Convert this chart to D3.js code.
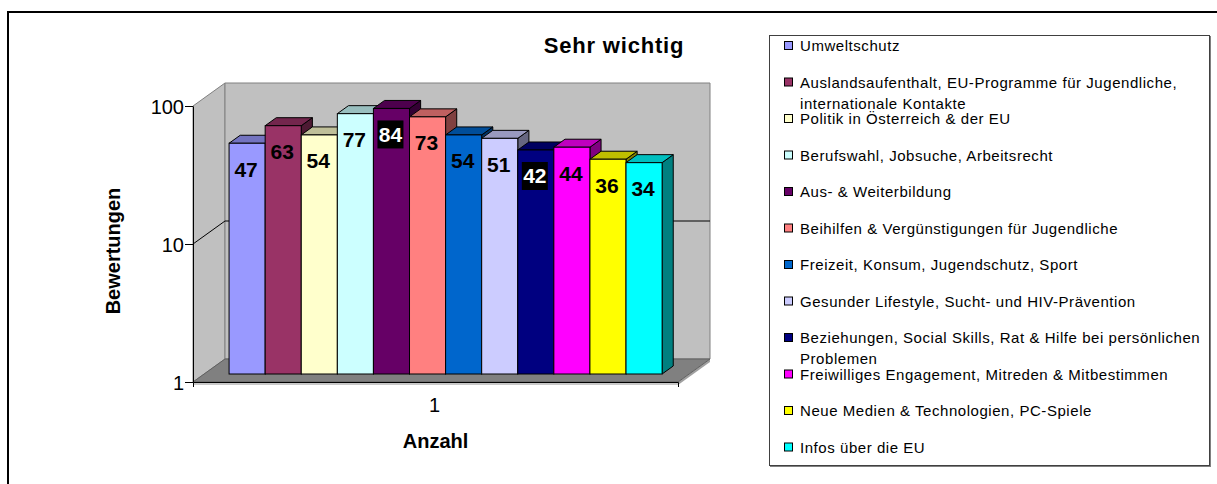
<!DOCTYPE html>
<html>
<head>
<meta charset="utf-8">
<script src="https://cdn.jsdelivr.net/npm/d3@7"></script>
<style>
  html, body { margin: 0; padding: 0; background: #fff; }
  svg { display: block; font-family: "Liberation Sans", Arial, sans-serif; }
</style>
</head>
<body>
<svg id="chart" width="1217" height="484"></svg>
<script>
// ---------- data ----------
const categories = ["1"];
const seriesNames = [
  "Umweltschutz",
  "Auslandsaufenthalt, EU-Programme für Jugendliche, internationale Kontakte",
  "Politik in Österreich & der EU",
  "Berufswahl, Jobsuche, Arbeitsrecht",
  "Aus- & Weiterbildung",
  "Beihilfen & Vergünstigungen für Jugendliche",
  "Freizeit, Konsum, Jugendschutz, Sport",
  "Gesunder Lifestyle, Sucht- und HIV-Prävention",
  "Beziehungen, Social Skills, Rat & Hilfe bei persönlichen Problemen",
  "Freiwilliges Engagement, Mitreden & Mitbestimmen",
  "Neue Medien & Technologien, PC-Spiele",
  "Infos über die EU"
];
const seriesValues = [47, 63, 54, 77, 84, 73, 54, 51, 42, 44, 36, 34];
const seriesColors = ["#9999FF", "#993366", "#FFFFCC", "#CCFFFF", "#660066", "#FF8080",
                      "#0066CC", "#CCCCFF", "#000080", "#FF00FF", "#FFFF00", "#00FFFF"];
const yTickValues = [1, 10, 100];
const chartTitle = "Sehr wichtig";
const yTitle = "Bewertungen";
const xTitle = "Anzahl";

// ---------- layout ----------
const svg = d3.select("#chart");
const front = { left: 193, right: 678, bottom: 382, top: 106 };
const depthX = 32, depthY = -23;          // full depth offset of the 3D box
const barD0 = 8 / 23, barD1 = 16 / 23;     // bar depth band (fraction of box depth)

const y = d3.scaleLog().domain([1, 100]).range([front.bottom, front.top]);
const x0 = d3.scaleBand().domain(categories).range([front.left, front.right])
  .paddingOuter(0.06).paddingInner(0).align(0.48);
const x1 = d3.scaleBand().domain(seriesNames).range([0, x0.bandwidth()]).padding(0);

const P = (x, yy, d) => [x + depthX * d, yy + depthY * d];
const poly = pts => "M" + pts.map(p => p.join(",")).join("L") + "Z";

// outer frame
svg.append("rect").attr("x", 8).attr("y", 12).attr("width", 1240).attr("height", 500)
  .attr("fill", "none").attr("stroke", "#000").attr("stroke-width", 2);

// ---------- walls & floor ----------
const yb = front.bottom, yt = y(100);
svg.append("path").attr("d", poly([P(front.left, yt, 0), P(front.left, yt, 1), P(front.left, yb, 1), P(front.left, yb, 0)]))
  .attr("fill", "#C0C0C0").attr("stroke", "#808080");
svg.append("path").attr("d", poly([P(front.left, yt, 1), P(front.right, yt, 1), P(front.right, yb, 1), P(front.left, yb, 1)]))
  .attr("fill", "#C0C0C0").attr("stroke", "#808080");
svg.append("path").attr("d", poly([P(front.left, yb, 0), P(front.right, yb, 0), P(front.right, yb + 3, 0), P(front.left, yb + 3, 0)]))
  .attr("fill", "#C8C8C8").attr("stroke", "none");
svg.append("path").attr("d", poly([P(front.right, yb, 0), P(front.right, yb, 1), P(front.right, yb + 3, 1), P(front.right, yb + 3, 0)]))
  .attr("fill", "#A0A0A0").attr("stroke", "none");
svg.append("path").attr("d", poly([P(front.left, yb, 0), P(front.left, yb, 1), P(front.right, yb, 1), P(front.right, yb, 0)]))
  .attr("fill", "#808080").attr("stroke", "#606060");

// gridlines (middle decade) on left wall and back wall
yTickValues.filter(v => v > 1 && v < 100).forEach(v => {
  const gy = y(v);
  svg.append("path").attr("d", "M" + P(front.left, gy, 0).join(",") + "L" + P(front.left, gy, 1).join(",") + "L" + P(front.right, gy, 1).join(","))
    .attr("fill", "none").attr("stroke", "#000").attr("stroke-width", 1);
});

// ---------- bars ----------
const shade = (c, k) => { const r = d3.rgb(c); return d3.rgb(r.r * k, r.g * k, r.b * k).formatHex(); };
const bars = seriesNames.map((name, i) => ({ name, value: seriesValues[i], color: seriesColors[i] }));
const gBars = svg.append("g");
bars.forEach(b => {
  const xl = x0(categories[0]) + x1(b.name), xr = xl + x1.bandwidth();
  const yTop = y(b.value), yBot = y(1);
  const g = gBars.append("g");
  g.append("path").attr("d", poly([P(xr, yTop, barD0), P(xr, yTop, barD1), P(xr, yBot, barD1), P(xr, yBot, barD0)]))
    .attr("fill", shade(b.color, 0.5)).attr("stroke", "#000").attr("stroke-width", 1);
  g.append("path").attr("d", poly([P(xl, yTop, barD0), P(xl, yTop, barD1), P(xr, yTop, barD1), P(xr, yTop, barD0)]))
    .attr("fill", shade(b.color, 0.75)).attr("stroke", "#000").attr("stroke-width", 1);
  const f0 = P(xl, yTop, barD0), f1 = P(xr, yBot, barD0);
  g.append("rect").attr("x", f0[0]).attr("y", f0[1]).attr("width", f1[0] - f0[0]).attr("height", f1[1] - f0[1])
    .attr("fill", b.color).attr("stroke", "#000").attr("stroke-width", 1);
});

// data labels
const gLab = svg.append("g");
bars.forEach(b => {
  const xl = x0(categories[0]) + x1(b.name);
  const p = P(xl + x1.bandwidth() / 2, y(b.value), barD0);
  const cx = p[0] - 1, cy = p[1] + 26;
  const dark = d3.hsl(b.color).l < 0.3;
  if (dark) {
    gLab.append("rect").attr("x", cx - 13).attr("y", cy - 14).attr("width", 26).attr("height", 28).attr("fill", "#000");
  }
  gLab.append("text").attr("x", cx).attr("y", cy + 7.5).attr("text-anchor", "middle")
    .attr("font-size", 21).attr("font-weight", "bold").attr("fill", dark ? "#fff" : "#000")
    .text(b.value);
});

// ---------- axes ----------
const yAxis = d3.axisLeft(y).tickValues(yTickValues).tickFormat(d3.format("d")).tickSize(8).tickPadding(1).tickSizeOuter(0);
const gy = svg.append("g").attr("transform", "translate(" + front.left + ",0)").call(yAxis);
gy.select(".domain").attr("stroke", "#000");
gy.selectAll("text").attr("font-size", 20).attr("font-family", "Liberation Sans, Arial, sans-serif").attr("dy", "0.35em");

const xAxis = d3.axisBottom(x0).tickSizeInner(0).tickSizeOuter(5).tickPadding(16);
const gx = svg.append("g").attr("transform", "translate(0," + front.bottom + ")").call(xAxis);
gx.select(".domain").attr("stroke", "#000");
gx.selectAll("text").attr("font-size", 20).attr("font-family", "Liberation Sans, Arial, sans-serif");

// axis titles
svg.append("text").attr("x", (front.left + front.right) / 2).attr("y", 448).attr("text-anchor", "middle")
  .attr("font-size", 20).attr("font-weight", "bold").text(xTitle);
svg.append("text").attr("transform", "translate(120,251) rotate(-90)").attr("text-anchor", "middle")
  .attr("font-size", 20).attr("font-weight", "bold").text(yTitle);

// title
svg.append("text").attr("x", 614).attr("y", 53).attr("text-anchor", "middle")
  .attr("font-size", 22).attr("font-weight", "bold").attr("letter-spacing", 0.8).text(chartTitle);

// ---------- legend ----------
const lg = svg.append("g");
lg.append("rect").attr("x", 770).attr("y", 36).attr("width", 441).attr("height", 431).attr("fill", "#808080");
lg.append("rect").attr("x", 769.5).attr("y", 35.5).attr("width", 440).attr("height", 430)
  .attr("fill", "#fff").attr("stroke", "#404040").attr("stroke-width", 1);
const legendFont = 15, legendSpacing = 0.55, maxW = 415;
bars.forEach((b, i) => {
  const cy = 46 + i * 36.5;
  lg.append("rect").attr("x", 784.5).attr("y", cy - 4.5).attr("width", 8).attr("height", 8)
    .attr("fill", b.color).attr("stroke", "#000").attr("stroke-width", 1);
  const t = lg.append("text").attr("x", 800).attr("y", cy + 5).attr("font-size", legendFont)
    .attr("letter-spacing", legendSpacing).attr("fill", "#000");
  const words = b.name.split(" ");
  let line = [], ts = t.append("tspan").attr("x", 800);
  words.forEach(w => {
    line.push(w);
    ts.text(line.join(" "));
    if (ts.node().getComputedTextLength() > maxW && line.length > 1) {
      line.pop(); ts.text(line.join(" "));
      line = [w];
      ts = t.append("tspan").attr("x", 800).attr("dy", 21).text(w);
    }
  });
});
</script>
</body>
</html>
